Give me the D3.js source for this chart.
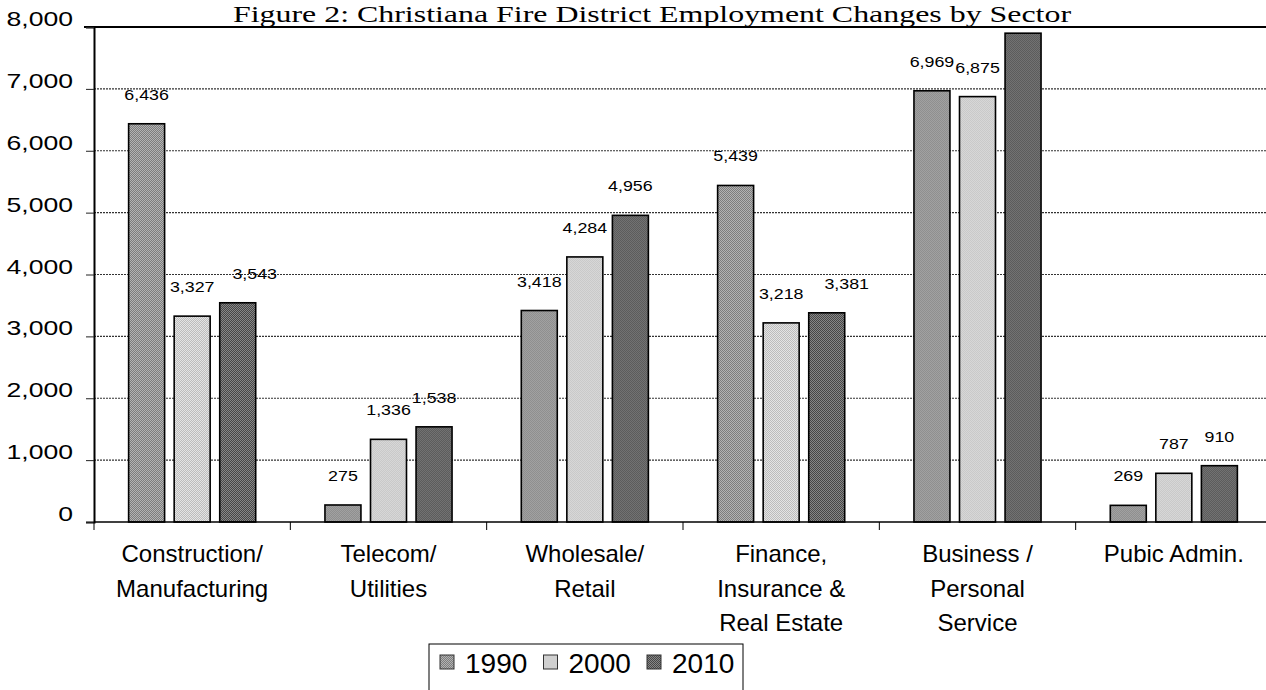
<!DOCTYPE html>
<html>
<head>
<meta charset="utf-8">
<script src="https://cdn.jsdelivr.net/npm/d3@7"></script>
<style>
    body { margin: 0; background: #fff; }
    svg { display: block; }
</style>
</head>
<body>
<div class="container"></div>
<script>
// datos
const categories = ["Construction/ Manufacturing", "Telecom/ Utilities", "Wholesale/ Retail",
                    "Finance, Insurance & Real Estate", "Business / Personal Service", "Pubic Admin."]
const categoryLines = [["Construction/", "Manufacturing"], ["Telecom/", "Utilities"], ["Wholesale/", "Retail"],
                       ["Finance,", "Insurance &", "Real Estate"], ["Business /", "Personal", "Service"], ["Pubic Admin."]]
const years = ["1990", "2000", "2010"]
const values1990 = [6436, 275, 3418, 5439, 6969, 269]
const values2000 = [3327, 1336, 4284, 3218, 6875, 787]
const values2010 = [3543, 1538, 4956, 3381, 7900, 910]
const yTicks = [0, 1000, 2000, 3000, 4000, 5000, 6000, 7000, 8000]
// the 2010 business bar has no printed value in the original
const hiddenLabels = ["Business / Personal Service|2010"]
const title = "Figure 2: Christiana Fire District Employment Changes by Sector"

const dimensiones = { WIDTH: 1266, HEIGHT: 690 }
const margin = { left: 94, right: -6, top: 27, bottom: 168 }
const colores = {
    "1990": ["#7d7d7d", "#b3b3b3"],
    "2000": ["#bcbcbc", "#e4e4e4"],
    "2010": ["#474747", "#878787"]
}
const labelShift = {
    "Construction/ Manufacturing|2010": 17,
    "Finance, Insurance & Real Estate|2010": 20
}

const series = [values1990, values2000, values2010]
const filas = []
categories.forEach((c, i) => {
    years.forEach((yr, j) => filas.push({ category: c, year: yr, value: series[j][i] }))
})

const svg = d3.select(".container")
              .append("svg")
              .attr("width", dimensiones.WIDTH)
              .attr("height", dimensiones.HEIGHT)

// halftone-ish fills
const defs = svg.append("defs")
years.forEach(yr => {
    const p = defs.append("pattern")
                  .attr("id", "pat" + yr)
                  .attr("width", 2)
                  .attr("height", 2)
                  .attr("patternUnits", "userSpaceOnUse")
    p.append("rect").attr("width", 2).attr("height", 2).attr("fill", colores[yr][0])
    p.append("rect").attr("width", 1).attr("height", 1).attr("fill", colores[yr][1])
    p.append("rect").attr("x", 1).attr("y", 1).attr("width", 1).attr("height", 1).attr("fill", colores[yr][1])
})

const plotBottom = dimensiones.HEIGHT - margin.bottom
const plotRight = dimensiones.WIDTH - margin.right

const y = d3.scaleLinear()
            .domain([0, 8000])
            .range([plotBottom, margin.top])

const x0 = d3.scaleBand()
             .domain(categories)
             .range([margin.left, plotRight])
             .padding(0)

const x1 = d3.scaleBand()
             .domain(years)
             .range([0, x0.bandwidth()])
             .paddingInner(0.21)
             .paddingOuter(0.76)

// title
svg.append("text")
   .attr("transform", "translate(652 22) scale(1.33 1)")
   .attr("text-anchor", "middle")
   .style("font-family", "'Liberation Serif', 'Times New Roman', serif")
   .style("font-size", "24px")
   .text(title)

// grid
svg.append("g")
   .selectAll("line")
   .data(yTicks.filter(t => t > 0 && t < 8000))
   .join("line")
   .attr("x1", margin.left)
   .attr("x2", dimensiones.WIDTH)
   .attr("y1", d => y(d))
   .attr("y2", d => y(d))
   .attr("stroke", "#333")
   .attr("stroke-width", 1.2)
   .attr("stroke-dasharray", "2,1")

svg.append("line")
   .attr("x1", margin.left - 10)
   .attr("x2", dimensiones.WIDTH)
   .attr("y1", y(8000))
   .attr("y2", y(8000))
   .attr("stroke", "#000")
   .attr("stroke-width", 2)

// y axis
const yAxis = svg.append("g")
                 .attr("transform", `translate(${margin.left},0)`)
                 .call(d3.axisLeft(y).tickValues(yTicks).tickSize(8).tickFormat(""))
yAxis.select(".domain").attr("stroke-width", 2)
yAxis.selectAll(".tick line").attr("stroke", "#222")

svg.append("g")
   .selectAll("text")
   .data(yTicks)
   .join("text")
   .attr("transform", d => `translate(73 ${y(d) - 1}) scale(1.33 1)`)
   .attr("text-anchor", "end")
   .style("font-family", "Arial, 'Liberation Sans', sans-serif")
   .style("font-size", "20px")
   .text(d => d3.format(",")(d))

// bars
const grupos = svg.append("g")
                  .selectAll("g")
                  .data(filas)
                  .join("g")
                  .attr("transform", d => `translate(${x0(d.category)},0)`)

grupos.append("rect")
      .attr("x", d => x1(d.year))
      .attr("y", d => y(d.value))
      .attr("width", x1.bandwidth())
      .attr("height", d => y(0) - y(d.value))
      .attr("fill", d => `url(#pat${d.year})`)
      .attr("stroke", "#000")
      .attr("stroke-width", 1.6)

grupos.filter(d => !hiddenLabels.includes(d.category + "|" + d.year))
      .append("text")
      .attr("transform", d => {
          const cx = x1(d.year) + x1.bandwidth() / 2 + (labelShift[d.category + "|" + d.year] || 0)
          return `translate(${cx} ${y(d.value) - 24}) scale(1.15 1)`
      })
      .attr("text-anchor", "middle")
      .style("font-family", "Arial, 'Liberation Sans', sans-serif")
      .style("font-size", "15.5px")
      .text(d => d3.format(",")(d.value))

// x axis
svg.append("line")
   .attr("x1", margin.left)
   .attr("x2", dimensiones.WIDTH)
   .attr("y1", y(0))
   .attr("y2", y(0))
   .attr("stroke", "#000")
   .attr("stroke-width", 1.5)

svg.append("g")
   .selectAll("line")
   .data(categories)
   .join("line")
   .attr("x1", d => x0(d))
   .attr("x2", d => x0(d))
   .attr("y1", y(0))
   .attr("y2", y(0) + 8)
   .attr("stroke", "#000")

svg.append("g")
   .selectAll("text")
   .data(categories)
   .join("text")
   .attr("text-anchor", "middle")
   .style("font-family", "Arial, 'Liberation Sans', sans-serif")
   .style("font-size", "24px")
   .each(function (d, i) {
       d3.select(this)
         .selectAll("tspan")
         .data(categoryLines[i])
         .join("tspan")
         .attr("x", x0(d) + x0.bandwidth() / 2)
         .attr("y", (_, k) => y(0) + 40 + k * 34.5)
         .text(t => t)
   })

// legend
const leyenda = svg.append("g")
                   .attr("transform", "translate(429 644)")

leyenda.append("rect")
       .attr("width", 314)
       .attr("height", 60)
       .attr("fill", "none")
       .attr("stroke", "#000")
       .attr("stroke-width", 1)

const items = leyenda.selectAll(".item")
                     .data(years)
                     .join("g")
                     .attr("class", "item")
                     .attr("transform", (_, i) => `translate(${11 + i * 103.5} 0)`)

items.append("rect")
     .attr("y", 11)
     .attr("width", 14)
     .attr("height", 14)
     .attr("fill", d => `url(#pat${d})`)
     .attr("stroke", "#333")

items.append("text")
     .attr("x", 25)
     .attr("y", 29)
     .style("font-family", "Arial, 'Liberation Sans', sans-serif")
     .style("font-size", "28px")
     .text(d => d)
</script>
</body>
</html>
